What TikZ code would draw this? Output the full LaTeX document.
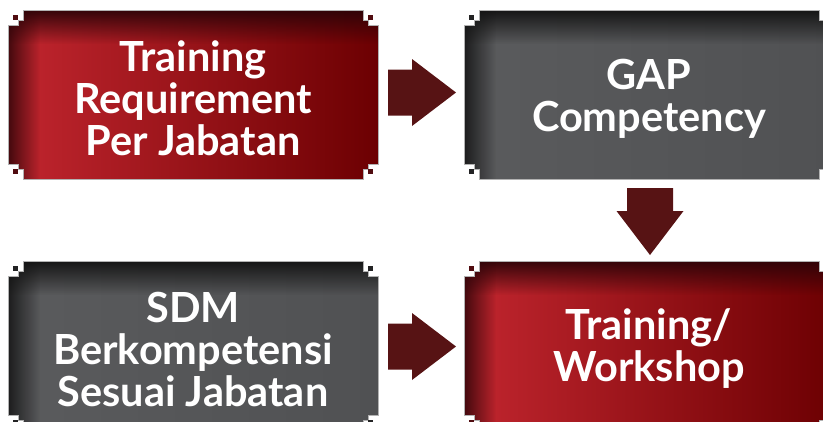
\documentclass[tikz,border=0pt]{standalone}
\usepackage{fontspec}
\setmainfont{Lato}
\usetikzlibrary{calc,fadings}

% panel and arrow colours
\definecolor{redhi}{RGB}{194,38,47}
\definecolor{redlo}{RGB}{108,0,2}
\definecolor{redsh}{RGB}{45,4,8}
\definecolor{reddot}{RGB}{80,12,16}
\definecolor{grayhi}{RGB}{90,91,93}
\definecolor{graylo}{RGB}{80,81,83}
\definecolor{graysh}{RGB}{18,18,18}
\definecolor{graydot}{RGB}{35,35,36}
\definecolor{arrowred}{RGB}{87,19,20}

% inner shadows along the top and left edges
\tikzfading[name=fromtop, top color=transparent!0, bottom color=transparent!100]
\tikzfading[name=fromleft, left color=transparent!0, right color=transparent!100]

\tikzset{
  panelrim/.style={draw=black!30, line width=0.8pt},
  paneltext/.style={text=white, align=center, inner sep=0pt,
    font=\fontsize{41.5}{42}\selectfont\bfseries},
  blockarrow/.style={fill=arrowred},
}

% outline with stepped corners: left, top, right, bottom
\newcommand\notchoutline[4]{%
  ({#1+15},#2) -- ({#3-15},#2) -- ({#3-15},{#2+10}) -- ({#3-10},{#2+10})
  -- ({#3-10},{#2+15}) -- (#3,{#2+15}) -- (#3,{#4-15}) -- ({#3-10},{#4-15})
  -- ({#3-10},{#4-10}) -- ({#3-15},{#4-10}) -- ({#3-15},#4) -- ({#1+15},#4)
  -- ({#1+15},{#4-10}) -- ({#1+10},{#4-10}) -- ({#1+10},{#4-15}) -- (#1,{#4-15})
  -- (#1,{#2+15}) -- ({#1+10},{#2+15}) -- ({#1+10},{#2+10}) -- ({#1+15},{#2+10})
  -- cycle}

% #1 name, #2-#5 left/top/right/bottom, #6 light, #7 dark, #8 shadow, #9 dot colour
\newcommand\panel[9]{%
  \begin{scope}
    \clip \notchoutline{#2}{#3}{#4}{#5};
    \shade[left color=#6, right color=#7] (#2,#3) rectangle (#4,#5);
    \fill[#8, path fading=fromtop, fill opacity=0.95] (#2,#3) rectangle (#4,{#3+34});
    \fill[#8, path fading=fromleft, fill opacity=0.85] (#2,#3) rectangle ({#2+32},#5);
  \end{scope}
  \draw[panelrim] \notchoutline{#2}{#3}{#4}{#5};
  \fill[#9] ({#2+5},{#3+5}) rectangle ({#2+10},{#3+10});
  \fill[#9] ({#4-10},{#3+5}) rectangle ({#4-5},{#3+10});
  \fill[#9] ({#2+5},{#5-10}) rectangle ({#2+10},{#5-5});
  \fill[#9] ({#4-10},{#5-10}) rectangle ({#4-5},{#5-5});
  \node[inner sep=0pt, minimum width={(#4-#2)*1pt}, minimum height={(#5-#3)*1pt}]
    (#1) at ({(#2+#4)/2},{(#3+#5)/2}) {};
}

\begin{document}
\begin{tikzpicture}[x=1pt, y=-1pt]
  \useasboundingbox (0,0) rectangle (823,421);
  \clip (0,0) rectangle (823,421);

  \panel{req}{8}{10}{378}{179}{redhi}{redlo}{redsh}{reddot}
  \panel{gap}{464}{10}{834}{179}{grayhi}{graylo}{graysh}{graydot}
  \panel{sdm}{8}{261}{378}{430}{grayhi}{graylo}{graysh}{graydot}
  \panel{train}{464}{261}{834}{430}{redhi}{redlo}{redsh}{reddot}

  \node[paneltext] at ($(req.center)+(0,3.5)$) {Training\\Requirement\\Per Jabatan};
  \node[paneltext] at ($(gap.center)+(0,4.5)$) {GAP\\Competency};
  \node[paneltext] at ($(sdm.center)+(0,4)$) {SDM\\Berkompetensi\\Sesuai Jabatan};
  \node[paneltext] at ($(train.center)+(0,3)$) {Training/\\Workshop};

  % block arrows between the panels
  \coordinate (a1) at ($(req.east)!0.5!(gap.west)+(1,-2)$);
  \coordinate (a2) at ($(gap.south)!0.5!(train.north)+(1,1.5)$);
  \coordinate (a3) at ($(sdm.east)!0.5!(train.west)+(1,1)$);

  \fill[blockarrow, shift={(a1)}] (-34,-23) -- (-10,-23) -- (-10,-33.5) -- (34,0)
    -- (-10,33.5) -- (-10,23) -- (-34,23) -- cycle;
  \fill[blockarrow, shift={(a2)}] (-23,-33.5) -- (23,-33.5) -- (23,-10.5) -- (33.5,-10.5)
    -- (0,33.5) -- (-33.5,-10.5) -- (-23,-10.5) -- cycle;
  \fill[blockarrow, shift={(a3)}] (-34,-23) -- (-10,-23) -- (-10,-33.5) -- (34,0)
    -- (-10,33.5) -- (-10,23) -- (-34,23) -- cycle;
\end{tikzpicture}
\end{document}
